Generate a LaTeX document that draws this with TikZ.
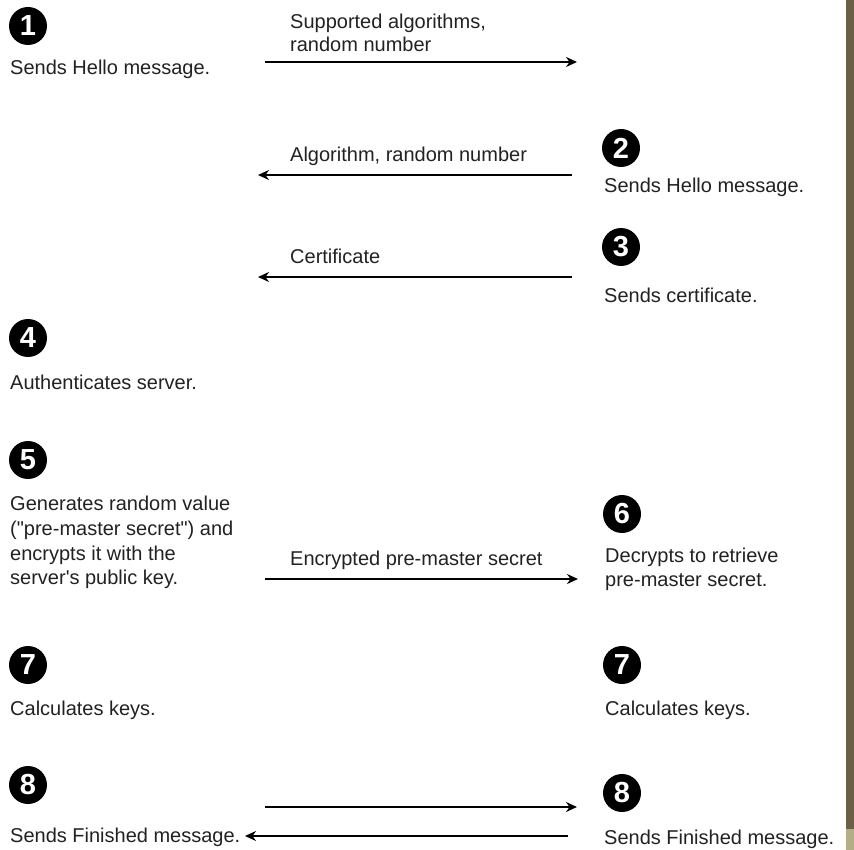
\documentclass[tikz,border=0pt]{standalone}
\usepackage{fontspec}
\setmainfont{Liberation Sans}[Ligatures=TeXOff]
\usetikzlibrary{arrows.meta}
\definecolor{barc}{HTML}{6B5F45}
\definecolor{khaki}{HTML}{B3AE86}
\definecolor{ink}{HTML}{222222}
\begin{document}
\begin{tikzpicture}[x=1pt,y=-1pt,
  txt/.style={anchor=base west,inner sep=0pt,font=\fontsize{20}{24}\selectfont,text=ink},
  num/.style={circle,fill=black,inner sep=0pt,minimum size=38pt,text=white,font=\fontsize{29}{30}\selectfont\bfseries},
  msg/.style={line width=1.8pt,draw=black,-{Stealth[length=11pt,width=10pt]}}]
\path[use as bounding box] (0,0) rectangle (854,850);
\fill[white] (0,0) rectangle (854,850);
\fill[barc] (846,0) rectangle (854,829);
\fill[khaki] (846,829) rectangle (854,850);

% step 1
\node[num] (n1) at (28,26) {1};
\node[txt] (t1) at (10,75) {Sends Hello message.};
\node[txt] (l1a) at (290,29) {Supported algorithms,};
\node[txt] (l1b) at (290,52) {random number};
\coordinate (a1s) at (265,62);
\coordinate (a1e) at (577,62);
\draw[msg] (a1s) -- (a1e);

% step 2
\node[num] (n2) at (621,148) {2};
\node[txt] (t2) at (604,193) {Sends Hello message.};
\node[txt] (l2) at (290,162) {Algorithm, random number};
\coordinate (a2s) at (572,175);
\coordinate (a2e) at (258,175);
\draw[msg] (a2s) -- (a2e);

% step 3
\node[num] (n3) at (621,247) {3};
\node[txt] (t3) at (604,302) {Sends certificate.};
\node[txt] (l3) at (290,264) {Certificate};
\coordinate (a3s) at (572,277);
\coordinate (a3e) at (258,277);
\draw[msg] (a3s) -- (a3e);

% step 4
\node[num] (n4) at (28,338) {4};
\node[txt] (t4) at (10,389) {Authenticates server.};

% step 5
\node[num] (n5) at (28,460) {5};
\node[txt] (t5a) at (10,510) {Generates random value};
\node[txt] (t5b) at (10,535) {("pre-master secret") and};
\node[txt] (t5c) at (10,560) {encrypts it with the};
\node[txt] (t5d) at (10,584) {server's public key.};

% step 6
\node[num] (n6) at (622,514) {6};
\node[txt] (t6a) at (605,562) {Decrypts to retrieve};
\node[txt] (t6b) at (605,586) {pre-master secret.};
\node[txt] (l6) at (290,565) {Encrypted pre-master secret};
\coordinate (a6s) at (265,579);
\coordinate (a6e) at (578,579);
\draw[msg] (a6s) -- (a6e);

% step 7
\node[num] (n7l) at (28,665) {7};
\node[txt] (t7l) at (10,715) {Calculates keys.};
\node[num] (n7r) at (622,665) {7};
\node[txt] (t7r) at (605,715) {Calculates keys.};

% step 8
\node[num] (n8l) at (28,785) {8};
\node[txt] (t8l) at (10,842) {Sends Finished message.};
\node[num] (n8r) at (622,793) {8};
\node[txt] (t8r) at (604,844) {Sends Finished message.};
\coordinate (a8s) at (265,807);
\coordinate (a8e) at (577,807);
\draw[msg] (a8s) -- (a8e);
\coordinate (b8s) at (568,836);
\coordinate (b8e) at (245,836);
\draw[msg] (b8s) -- (b8e);
\end{tikzpicture}
\end{document}
